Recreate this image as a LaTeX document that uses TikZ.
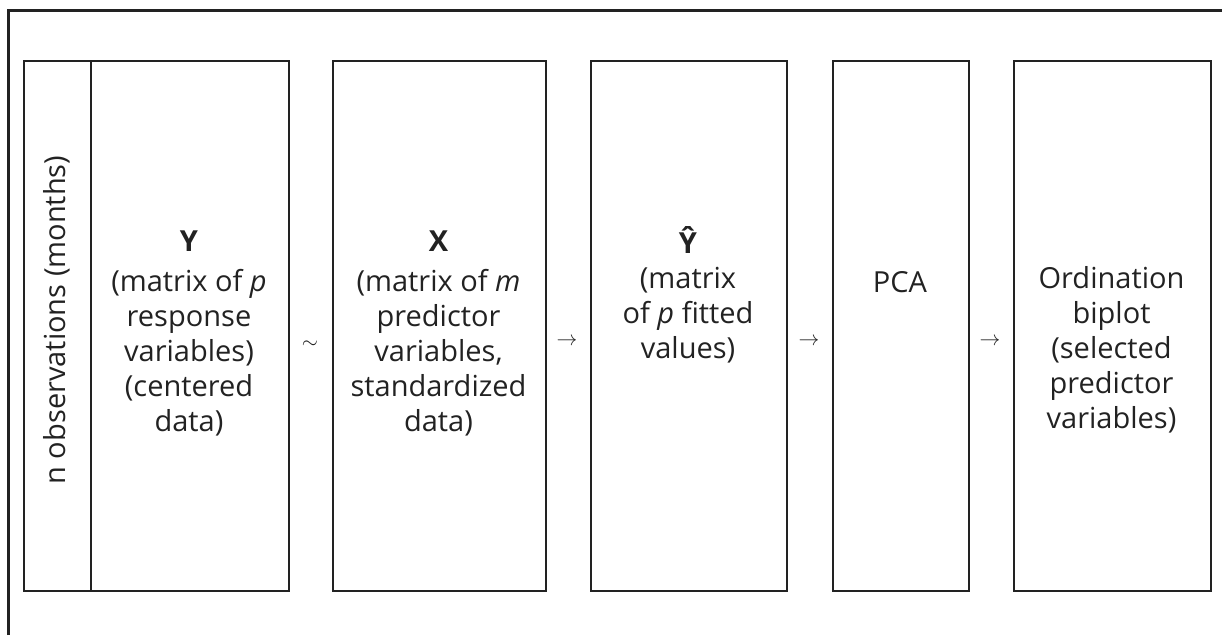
\documentclass[tikz,border=0pt]{standalone}
\usepackage{fontspec}
\setmainfont{Open Sans}
\definecolor{ink}{HTML}{222222}
\begin{document}
\begin{tikzpicture}[x=1pt,y=-1pt,
  box/.style={draw=ink,line width=1.7pt,inner sep=0pt,anchor=north west},
  lab/.style={text=ink,inner sep=0pt,anchor=north,align=center,font=\fontsize{29}{35}\selectfont},
  sym/.style={text=ink,inner sep=0pt,font=\fontsize{22}{26}\selectfont}]
\useasboundingbox (0,0) rectangle (1222,635);
\draw[ink,line width=2.6pt] (8.5,635) -- (8.5,10.5) coordinate (tl) -- (1222,10.5);
% boxes
\node[box,minimum width=67pt,minimum height=530pt] (obs) at (23,60) {};
\node[box,minimum width=198pt,minimum height=530pt] (Ybox) at (90,60) {};
\node[box,minimum width=213pt,minimum height=530pt] (Xbox) at (332,60) {};
\node[box,minimum width=196pt,minimum height=530pt] (Yhbox) at (590,60) {};
\node[box,minimum width=136pt,minimum height=530pt] (PCAbox) at (832,60) {};
\node[box,minimum width=197pt,minimum height=530pt] (Ordbox) at (1013,60) {};
% texts
\node[text=ink,inner sep=0pt,rotate=90,font=\fontsize{29}{35}\selectfont] (obst) at (56.5,320) {n observations (months)};
\node[lab] (Yt) at (189,231) {\textbf{Y}\\[5pt](matrix of \textit{p}\\response\\variables)\\(centered\\data)};
\node[lab] (Xt) at (438.5,231) {\textbf{X}\\[5pt](matrix of \textit{m}\\predictor\\variables,\\standardized\\data)};
\node[lab] (Yht) at (688,226) {\textbf{Ŷ}\\(matrix\\of \textit{p} fitted\\values)};
\node[lab] (PCAt) at (900,271) {PCA};
\node[lab] (Ordt) at (1111.5,266) {Ordination\\biplot\\(selected\\predictor\\variables)};
% symbols between boxes
\node[sym] (s1) at (310,345) {$\sim$};
\node[sym] (s2) at (567,342) {$\rightarrow$};
\node[sym] (s3) at (809,342) {$\rightarrow$};
\node[sym] (s4) at (990,342) {$\rightarrow$};
\end{tikzpicture}
\end{document}
